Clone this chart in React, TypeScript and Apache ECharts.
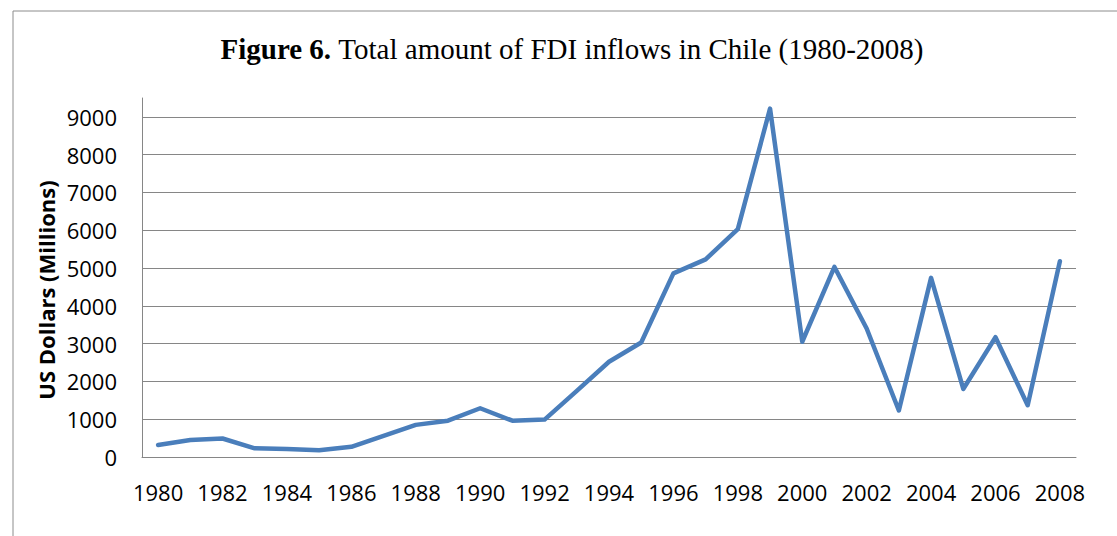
import React, { useEffect, useRef } from "react";
import * as echarts from "echarts";

const years: string[] = [
  "1980", "1981", "1982", "1983", "1984", "1985", "1986", "1987", "1988", "1989",
  "1990", "1991", "1992", "1993", "1994", "1995", "1996", "1997", "1998", "1999",
  "2000", "2001", "2002", "2003", "2004", "2005", "2006", "2007", "2008",
];

const fdiInflows: number[] = [
  320, 450, 490, 230, 210, 180, 270, 560, 850, 960,
  1290, 960, 990, 1750, 2520, 3030, 4860, 5230, 6030, 9220,
  3050, 5030, 3400, 1230, 4740, 1800, 3170, 1370, 5180,
];

const titleBold = "Figure 6.";
const titleRest = "Total amount of FDI inflows in Chile (1980-2008)";
const yAxisTitle = "US Dollars (Millions)";

export default function App() {
  const ref = useRef<HTMLDivElement>(null);

  useEffect(() => {
    if (!ref.current) return;
    const chart = echarts.init(ref.current, null, { renderer: "svg" });
    const gridColor = "#868686";
    chart.setOption({
      animation: false,
      backgroundColor: "#ffffff",
      textStyle: { fontFamily: "Open Sans" },
      grid: { left: 142, right: 41, top: 98, bottom: 79, containLabel: false },
      xAxis: {
        type: "category",
        data: years,
        boundaryGap: true,
        axisLine: { show: true, lineStyle: { color: gridColor, width: 1 } },
        axisTick: { show: false },
        axisLabel: {
          interval: 1,
          color: "#000000",
          fontFamily: "Open Sans",
          fontSize: 22,
          margin: 24,
        },
        splitLine: { show: false },
      },
      yAxis: {
        type: "value",
        min: 0,
        max: 9500,
        interval: 1000,
        axisLine: { show: true, lineStyle: { color: gridColor, width: 1 } },
        axisTick: { show: false },
        axisLabel: {
          color: "#000000",
          fontFamily: "Open Sans",
          fontSize: 22,
          margin: 25,
          showMaxLabel: false,
          formatter: (v: number) => String(v),
        },
        splitLine: {
          show: true,
          showMaxLine: false,
          lineStyle: { color: gridColor, width: 1 },
        },
      },
      series: [
        {
          type: "line",
          data: fdiInflows,
          symbol: "none",
          lineStyle: { color: "#4a7ebb", width: 4.5, cap: "round", join: "round" },
          itemStyle: { color: "#4a7ebb" },
        },
      ],
      graphic: [
        {
          type: "rect",
          shape: { x: 13, y: 11, width: 1200, height: 600 },
          style: { fill: "none", stroke: "#8c8c8c", lineWidth: 1 },
          silent: true,
          z: -1,
        },
        {
          type: "text",
          x: 572,
          y: 48.5,
          style: {
            text: `{b|${titleBold}} {n|${titleRest}}`,
            align: "center",
            verticalAlign: "middle",
            fill: "#000000",
            rich: {
              b: { fontFamily: "Liberation Serif", fontSize: 29, fontWeight: "bold", fill: "#000000" },
              n: { fontFamily: "Liberation Serif", fontSize: 29, fill: "#000000" },
            },
            fontFamily: "Liberation Serif",
            fontSize: 29,
          },
        },
        {
          type: "text",
          x: 46,
          y: 290,
          rotation: Math.PI / 2,
          style: {
            text: yAxisTitle,
            align: "center",
            verticalAlign: "middle",
            fontFamily: "Open Sans",
            fontSize: 22,
            fontWeight: "bold",
            fill: "#000000",
          },
        },
      ],
    });
    return () => chart.dispose();
  }, []);

  return (
    <div
      ref={ref}
      style={{ position: "fixed", left: 0, top: 0, width: 1117, height: 536 }}
    />
  );
}
